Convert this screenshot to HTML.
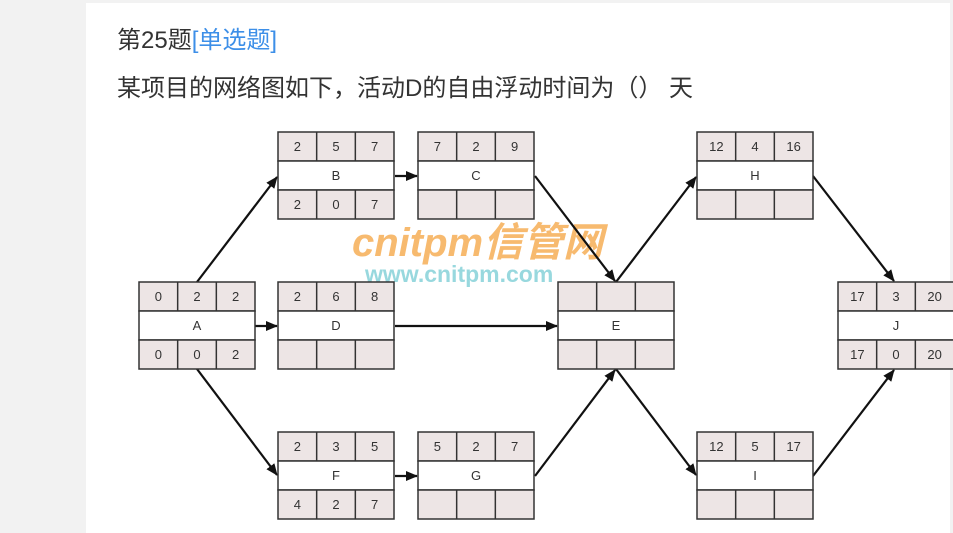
<!DOCTYPE html>
<html><head><meta charset="utf-8"><style>
html,body{margin:0;padding:0;width:953px;height:533px;overflow:hidden;background:#f2f2f2;}
.card{position:absolute;left:86px;top:3px;width:864px;height:530px;background:#fff;}
.t{position:absolute;left:117px;font-family:"Liberation Sans","Noto Sans CJK SC",sans-serif;font-size:24px;color:#333;white-space:nowrap;}
svg{position:absolute;left:0;top:0;}
</style></head><body>
<div class="card"></div>
<div class="t" style="top:20px;">第25题<span style="color:#3d8fe8">[单选题]</span></div>
<div class="t" style="top:68px;">某项目的网络图如下，活动D的自由浮动时间为（） 天</div>
<svg width="953" height="533" viewBox="0 0 953 533" font-family="Liberation Sans, sans-serif">
<defs><marker id="ar" markerWidth="12" markerHeight="10" refX="11" refY="5" orient="auto" markerUnits="userSpaceOnUse"><path d="M0,0 L12,5 L0,10 z" fill="#111"/></marker></defs>
<text x="352" y="256" font-size="40" font-weight="bold" font-style="italic" fill="#f5a340" opacity="0.75">cnitpm<tspan font-family="Noto Sans CJK SC,sans-serif">信管网</tspan></text>
<text x="365" y="282" font-size="23" font-weight="bold" fill="#7fcfd6" opacity="0.8">www.cnitpm.com</text>
<g stroke="#111" stroke-width="2.2" fill="none" marker-end="url(#ar)">
<line x1="197" y1="282" x2="277" y2="177"/>
<line x1="255" y1="326" x2="277" y2="326"/>
<line x1="197" y1="369" x2="277" y2="475"/>
<line x1="395" y1="176" x2="417" y2="176"/>
<line x1="535" y1="176" x2="615" y2="281"/>
<line x1="395" y1="326" x2="557" y2="326"/>
<line x1="395" y1="476" x2="417" y2="476"/>
<line x1="535" y1="476" x2="615" y2="370"/>
<line x1="616" y1="282" x2="696" y2="177"/>
<line x1="616" y1="369" x2="696" y2="475"/>
<line x1="813" y1="176" x2="894" y2="281"/>
<line x1="813" y1="476" x2="894" y2="370"/>
</g>
<g id="nodes" font-size="13" fill="#333" text-anchor="middle"></g>
</svg>
<script>
var N=[[139,282,'A',['0','2','2'],['0','0','2']],[278,132,'B',['2','5','7'],['2','0','7']],[418,132,'C',['7','2','9'],['','','']],
[278,282,'D',['2','6','8'],['','','']],[278,432,'F',['2','3','5'],['4','2','7']],[418,432,'G',['5','2','7'],['','','']],
[558,282,'E',['','',''],['','','']],[697,132,'H',['12','4','16'],['','','']],[697,432,'I',['12','5','17'],['','','']],[838,282,'J',['17','3','20'],['17','0','20']]];
var g=document.getElementById('nodes'),s='';
N.forEach(function(n){var x=n[0],y=n[1],w=116,c=w/3;
s+='<rect x="'+x+'" y="'+y+'" width="'+w+'" height="29" fill="#ede5e5" stroke="#333" stroke-width="1.5"/>';
s+='<rect x="'+x+'" y="'+(y+29)+'" width="'+w+'" height="29" fill="#fff" stroke="#333" stroke-width="1.5"/>';
s+='<rect x="'+x+'" y="'+(y+58)+'" width="'+w+'" height="29" fill="#ede5e5" stroke="#333" stroke-width="1.5"/>';
for(var i=1;i<3;i++){s+='<line x1="'+(x+c*i)+'" y1="'+y+'" x2="'+(x+c*i)+'" y2="'+(y+29)+'" stroke="#333" stroke-width="1.5"/>';
s+='<line x1="'+(x+c*i)+'" y1="'+(y+58)+'" x2="'+(x+c*i)+'" y2="'+(y+87)+'" stroke="#333" stroke-width="1.5"/>';}
for(var i=0;i<3;i++){s+='<text x="'+(x+c*i+c/2)+'" y="'+(y+19)+'">'+n[3][i]+'</text><text x="'+(x+c*i+c/2)+'" y="'+(y+77)+'">'+n[4][i]+'</text>';}
s+='<text x="'+(x+w/2)+'" y="'+(y+48)+'">'+n[2]+'</text>';});
g.innerHTML=s;
</script>
</body></html>
